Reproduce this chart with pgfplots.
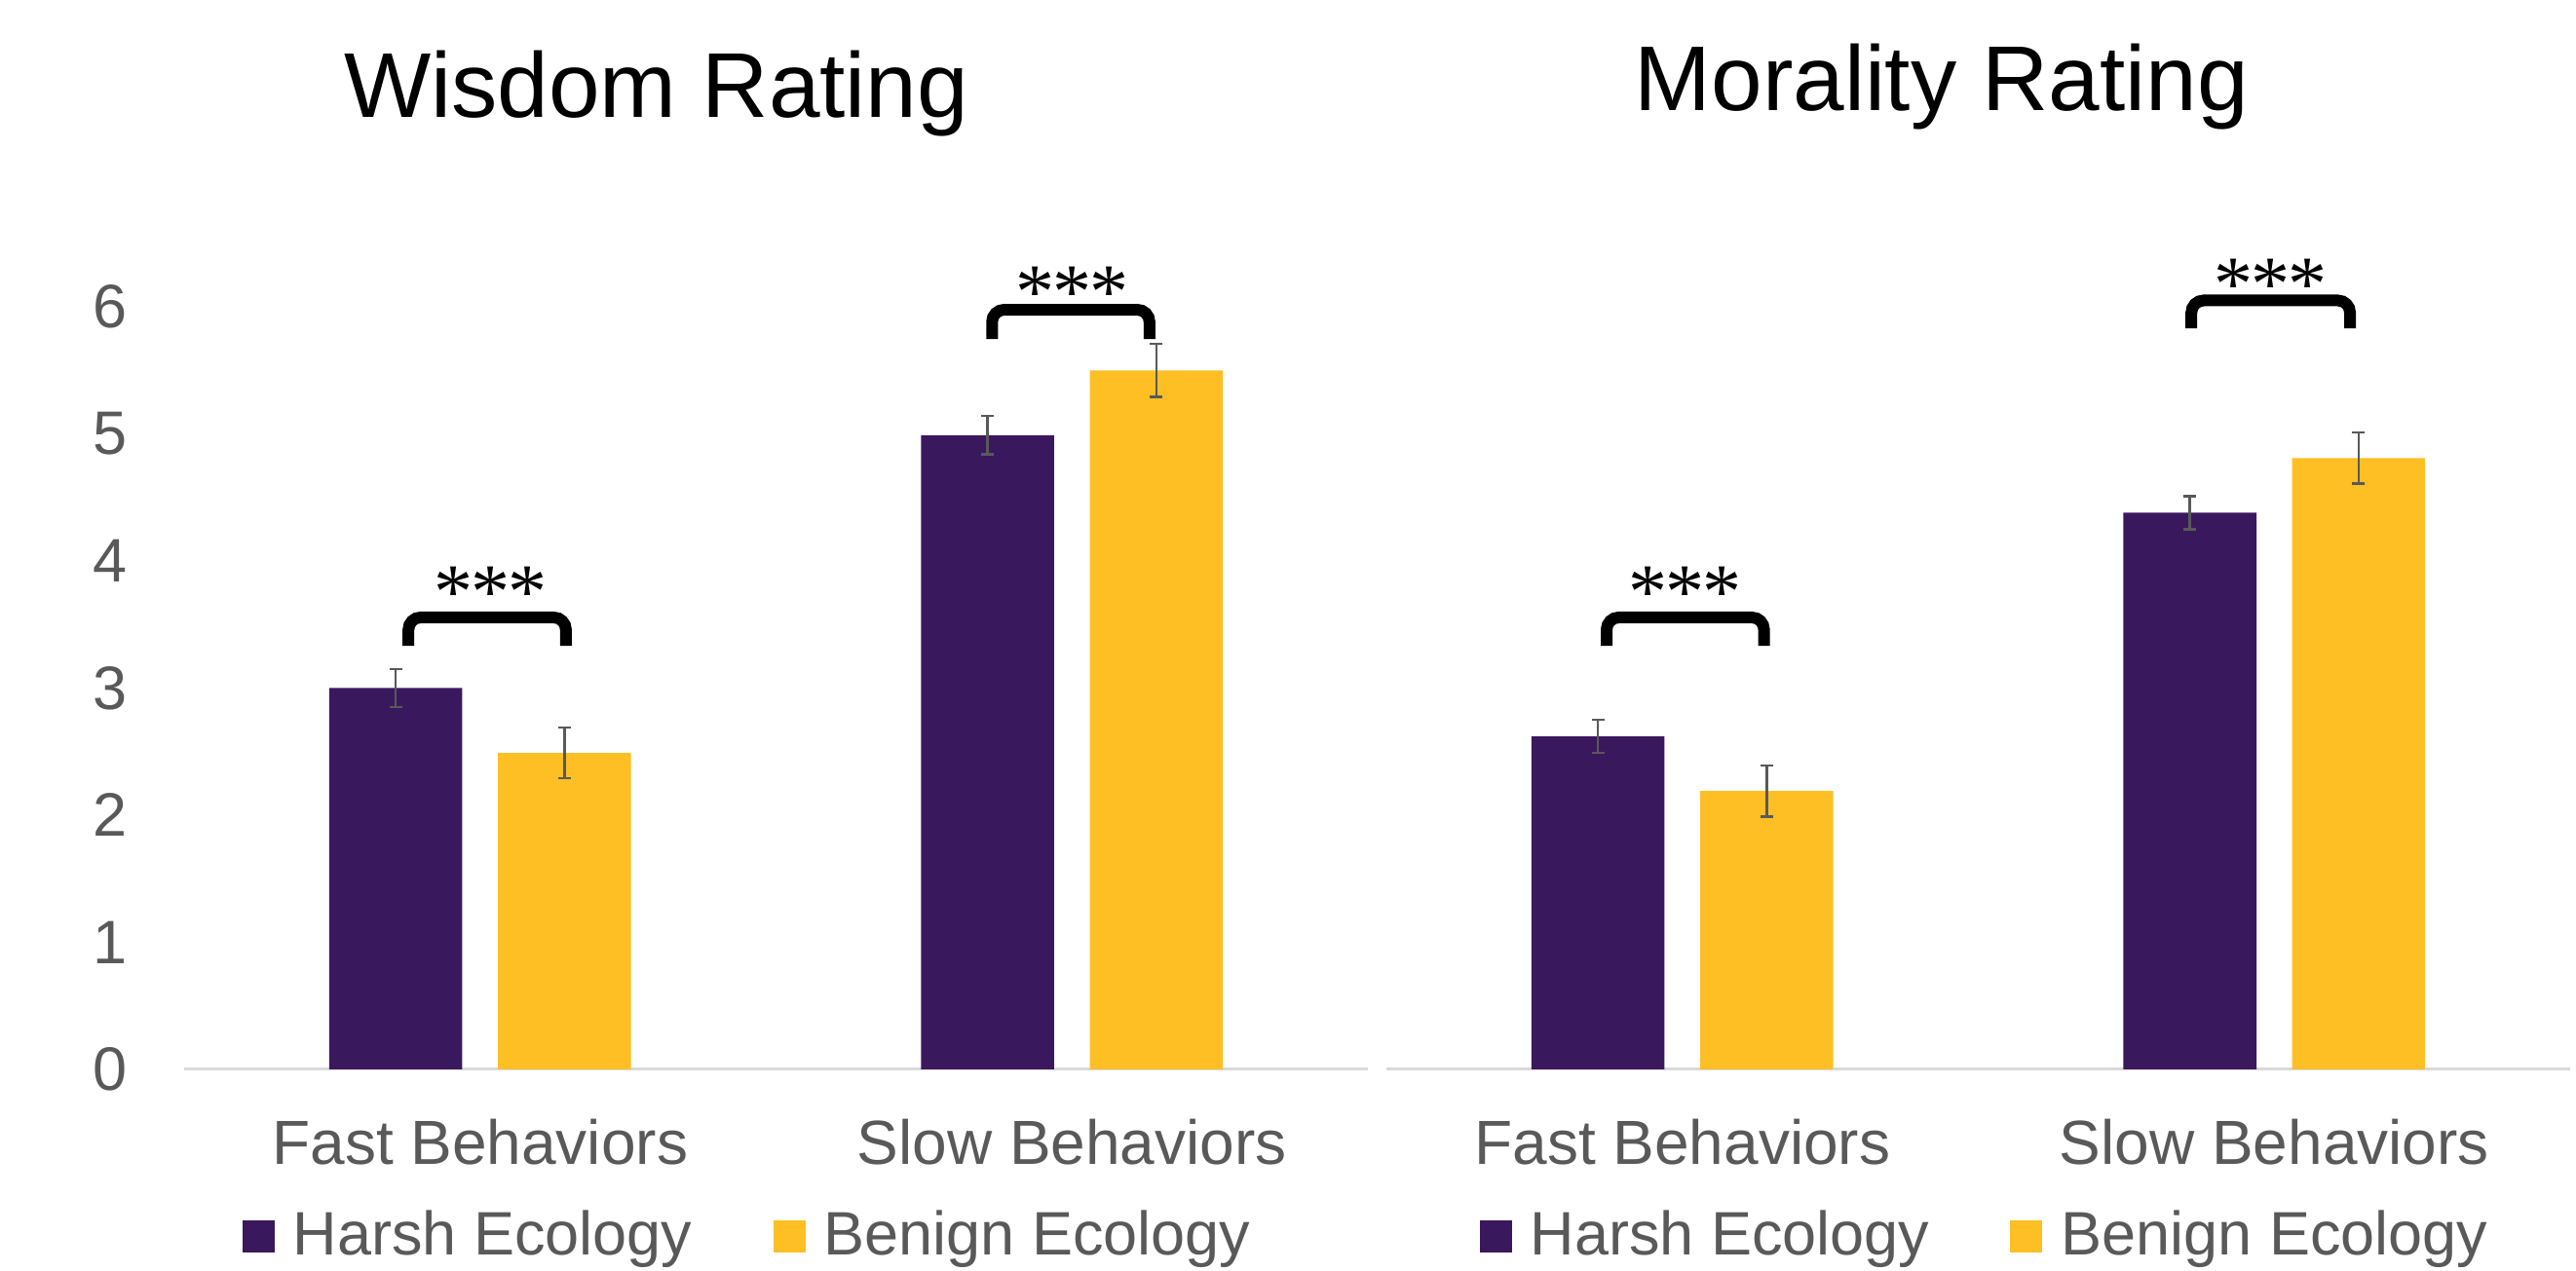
\documentclass[border=0pt]{standalone}
\usepackage{fontspec}
\setmainfont{Liberation Sans}
\newfontfamily\starfont{Liberation Serif}
\usepackage{pgfplots}
\pgfplotsset{compat=1.18}
\definecolor{harsh}{HTML}{3A185E}
\definecolor{benign}{HTML}{FDBF24}
\definecolor{txtgray}{HTML}{595959}
\definecolor{linegray}{HTML}{D9D9D9}

\newcommand{\stars}{*\kern-0.4pt*\kern-0.4pt*}
\tikzset{bracket/.style={black, line width=2.4pt, rounded corners=2.5pt},
  starnode/.style={anchor=base, inner sep=0pt, font=\starfont\fontsize{16}{18}\selectfont}}
\pgfplotsset{
  ratingaxis/.style={
    scale only axis, width=243pt, height=156.6pt,
    anchor=south west,
    xmin=-0.5, xmax=1.5, ymin=0, ymax=6,
    clip=false,
    axis lines*=left,
    x axis line style={linegray, line width=0.6pt},
    y axis line style={draw=none},
    major tick length=0pt,
    xtick={0,1}, xticklabels={Fast Behaviors, Slow Behaviors},
    xticklabel style={font=\fontsize{12.8}{14}\selectfont, text=txtgray, anchor=base, inner sep=0pt, yshift=-19.6pt},
    ytick={0,1,2,3,4,5,6},
    yticklabel style={font=\fontsize{12.6}{14}\selectfont, text=txtgray, anchor=east, inner sep=0pt, xshift=-11.4pt},
    /pgf/number format/assume math mode=true,
    legend columns=2,
    legend style={draw=none, fill=none, anchor=center,
      font=\fontsize{12.6}{14}\selectfont, text=txtgray,
      nodes={inner sep=0pt},
      /tikz/every odd column/.append style={column sep=3.8pt},
      /tikz/every even column/.append style={column sep=16.6pt}},
    legend image code/.code={\fill[##1, draw=none] (0pt,-3.3pt) rectangle (6.6pt,3.3pt);},
  },
  harshbar/.style={ybar, bar width=0.2248, bar shift=0pt, fill=harsh, draw=none,
    error bars/.cd, y dir=both, y explicit,
    error bar style={color=txtgray, line width=0.5pt},
    error mark options={rotate=90, mark size=1.3pt, line width=0.5pt, color=txtgray}},
  benignbar/.style={ybar, bar width=0.2248, bar shift=0pt, fill=benign, draw=none,
    error bars/.cd, y dir=both, y explicit,
    error bar style={color=txtgray, line width=0.5pt},
    error mark options={rotate=90, mark size=1.3pt, line width=0.5pt, color=txtgray}},
}

\begin{document}
\begin{tikzpicture}
\path[use as bounding box] (-37.8pt,-41.4pt) rectangle (491pt,219.6pt);

% ---------------- Wisdom Rating ----------------
\begin{axis}[ratingaxis, at={(0pt,0pt)},
  legend style={at={(0.475,-0.219)}}]
\addplot[harshbar] coordinates {(-0.1425,3.00) +- (0,0.15) (0.8575,4.99) +- (0,0.15)};
\addlegendentry{Harsh Ecology}
\addplot[benignbar] coordinates {(0.1425,2.49) +- (0,0.20) (1.1425,5.50) +- (0,0.21)};
\addlegendentry{Benign Ecology}
\node[anchor=base, font=\fontsize{18.9}{22}\selectfont] at (rel axis cs:0.399,1) [yshift=39pt] {Wisdom Rating};
\draw[bracket] (axis cs:-0.121,3.333) -- (axis cs:-0.121,3.556) -- (axis cs:0.145,3.556) -- (axis cs:0.145,3.333);
\node[starnode] at (axis cs:0.017,3.553) {\stars};
\draw[bracket] (axis cs:0.865,5.747) -- (axis cs:0.865,5.977) -- (axis cs:1.131,5.977) -- (axis cs:1.131,5.747);
\node[starnode] at (axis cs:1.0,5.913) {\stars};
\end{axis}

% ---------------- Morality Rating ----------------
\begin{axis}[ratingaxis, at={(246.8pt,0pt)}, yticklabels={},
  legend style={at={(0.5045,-0.219)}}]
\addplot[harshbar] coordinates {(-0.1425,2.62) +- (0,0.13) (0.8575,4.38) +- (0,0.13)};
\addlegendentry{Harsh Ecology}
\addplot[benignbar] coordinates {(0.1425,2.19) +- (0,0.20) (1.1425,4.81) +- (0,0.20)};
\addlegendentry{Benign Ecology}
\node[anchor=base, font=\fontsize{18.9}{22}\selectfont] at (rel axis cs:0.469,1) [yshift=40.4pt] {Morality Rating};
\draw[bracket] (axis cs:-0.128,3.333) -- (axis cs:-0.128,3.556) -- (axis cs:0.138,3.556) -- (axis cs:0.138,3.333);
\node[starnode] at (axis cs:0.005,3.553) {\stars};
\draw[bracket] (axis cs:0.860,5.83) -- (axis cs:0.860,6.05) -- (axis cs:1.128,6.05) -- (axis cs:1.128,5.83);
\node[starnode] at (axis cs:0.994,5.974) {\stars};
\end{axis}
\end{tikzpicture}
\end{document}
